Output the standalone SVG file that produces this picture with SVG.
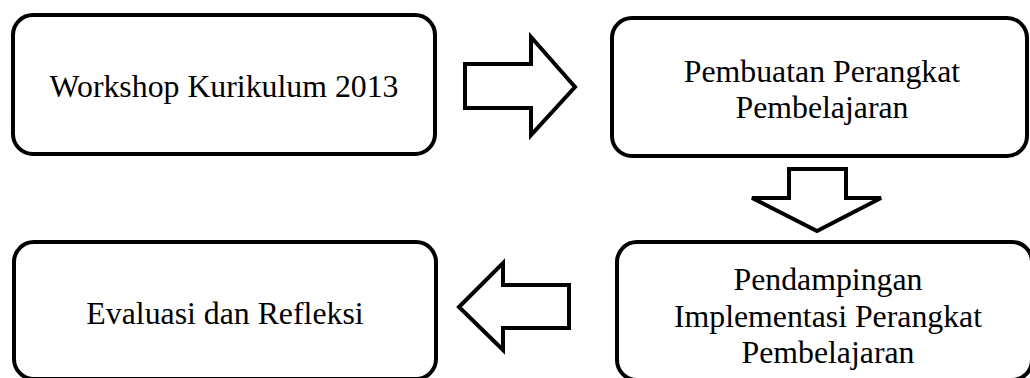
<svg xmlns="http://www.w3.org/2000/svg" width="1030" height="378" viewBox="0 0 1030 378">
<style>
.box{fill:#fff;stroke:#000;stroke-width:4}
.arr{fill:#fff;stroke:#000;stroke-width:4;stroke-linejoin:miter}
.t{font-family:"Liberation Serif","Times New Roman",serif;font-size:31.8px;fill:#000;text-anchor:middle}
</style>
<rect width="1030" height="378" fill="#fff"/>
<g id="connectors">
<polygon class="arr" points="465,64 531,64 531,37 575,87 531,135 531,108 465,108"/>
<polygon class="arr" points="789,169 846,169 846,198 881,198 817,231 752,198 789,198"/>
<polygon class="arr" points="459,307 503,263 503,285 569,285 569,328 503,328 503,350"/>
</g>
<g id="node-workshop">
<rect class="box" x="13" y="15" width="422" height="139" rx="20" ry="20"/>
<text class="t" x="224" y="97">Workshop Kurikulum 2013</text>
</g>
<g id="node-pembuatan">
<rect class="box" x="612" y="18" width="415" height="138" rx="20" ry="20"/>
<text class="t" x="822" y="82">Pembuatan Perangkat</text>
<text class="t" x="822" y="118">Pembelajaran</text>
</g>
<g id="node-pendampingan">
<rect class="box" x="617" y="242" width="415" height="138" rx="20" ry="20"/>
<text class="t" x="828" y="290">Pendampingan</text>
<text class="t" x="828" y="327">Implementasi Perangkat</text>
<text class="t" x="828" y="363">Pembelajaran</text>
</g>
<g id="node-evaluasi">
<rect class="box" x="14" y="242" width="422" height="137" rx="20" ry="20"/>
<text class="t" x="225" y="324">Evaluasi dan Refleksi</text>
</g>
</svg>
